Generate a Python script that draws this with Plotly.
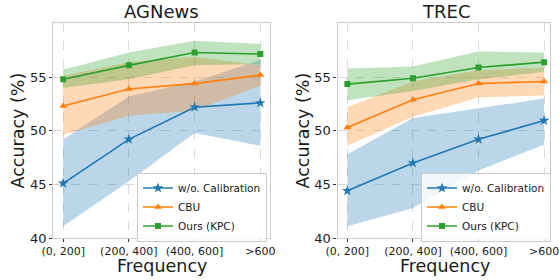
import plotly.graph_objects as go

W, H = 559, 280

categories = ["(0, 200]", "(200, 400]", "(400, 600]", ">600"]
series_names = ["w/o. Calibration", "CBU", "Ours (KPC)"]

# AGNews
ag_base = [45.1, 49.2, 52.2, 52.6]
ag_base_lo = [41.1, 45.3, 49.8, 48.6]
ag_base_hi = [49.2, 53.2, 54.6, 56.6]
ag_cbu = [52.3, 53.9, 54.4, 55.2]
ag_cbu_lo = [49.6, 51.4, 51.9, 54.2]
ag_cbu_hi = [55.1, 56.4, 56.9, 56.1]
ag_kpc = [54.8, 56.1, 57.3, 57.15]
ag_kpc_lo = [54.0, 54.8, 56.1, 56.2]
ag_kpc_hi = [55.7, 57.3, 58.4, 58.1]

# TREC
tr_base = [44.4, 47.0, 49.2, 50.95]
tr_base_lo = [41.1, 42.8, 46.3, 48.7]
tr_base_hi = [47.8, 51.2, 52.1, 53.0]
tr_cbu = [50.3, 52.9, 54.4, 54.6]
tr_cbu_lo = [48.6, 51.3, 53.1, 53.3]
tr_cbu_hi = [52.2, 54.6, 55.65, 55.9]
tr_kpc = [54.35, 54.9, 55.9, 56.4]
tr_kpc_lo = [52.85, 53.7, 54.8, 55.5]
tr_kpc_hi = [55.8, 56.0, 57.4, 57.3]

y_ticks = [40, 45, 50, 55]

colors = ["#1f77b4", "#ff7f0e", "#2ca02c"]
fills = ["rgba(31,119,180,0.3)", "rgba(255,127,14,0.3)", "rgba(44,160,44,0.3)"]
symbols = ["star", "triangle-up", "square"]
msizes = [8, 7, 6]

FONT = "DejaVu Sans"

fig = go.Figure()

panels = [
    ("x", "y", [(ag_base, ag_base_lo, ag_base_hi), (ag_cbu, ag_cbu_lo, ag_cbu_hi), (ag_kpc, ag_kpc_lo, ag_kpc_hi)], "legend"),
    ("x2", "y2", [(tr_base, tr_base_lo, tr_base_hi), (tr_cbu, tr_cbu_lo, tr_cbu_hi), (tr_kpc, tr_kpc_lo, tr_kpc_hi)], "legend2"),
]

for xa, ya, data, leg in panels:
    for i, (m, lo, hi) in enumerate(data):
        fig.add_trace(go.Scatter(
            x=categories + categories[::-1], y=hi + lo[::-1],
            fill="toself", fillcolor=fills[i], line=dict(width=0),
            mode="lines", hoverinfo="skip", showlegend=False,
            xaxis=xa, yaxis=ya))
    for i, (m, lo, hi) in enumerate(data):
        fig.add_trace(go.Scatter(
            x=categories, y=m, mode="lines+markers", name=series_names[i],
            line=dict(color=colors[i], width=1.6),
            marker=dict(symbol=symbols[i], size=msizes[i], color=colors[i]),
            xaxis=xa, yaxis=ya, legend=leg))

def px_x(p):
    return p / W

def px_y(p):
    return 1 - p / H

axis_common = dict(
    showgrid=True, gridcolor="#d9d9d9", griddash="dash", gridwidth=1,
    showline=True, mirror=True, linecolor="#cccccc", linewidth=1.2,
    ticks="outside", ticklen=3, tickcolor="#333333", tickwidth=1,
    zeroline=False, automargin=False,
)

fig.update_layout(
    width=W, height=H,
    margin=dict(l=0, r=0, t=0, b=0, autoexpand=False),
    plot_bgcolor="white", paper_bgcolor="white",
    font=dict(family=FONT, color="#1a1a1a"),
    xaxis=dict(domain=[px_x(53.3), px_x(269.5)], type="category", range=[-0.15, 3.14],
               tickfont=dict(size=11), tickangle=0, anchor="y", **axis_common),
    yaxis=dict(domain=[px_y(238), px_y(23)], range=[40, 60.05], tickvals=y_ticks,
               tickfont=dict(size=13), anchor="x", **axis_common),
    xaxis2=dict(domain=[px_x(337.5), px_x(550)], type="category", range=[-0.15, 3.09],
                tickfont=dict(size=11), tickangle=0, anchor="y2", **axis_common),
    yaxis2=dict(domain=[px_y(238), px_y(23)], range=[40, 60.05], tickvals=y_ticks,
                tickfont=dict(size=13), anchor="x2", **axis_common),
    legend=dict(x=px_x(137), y=px_y(207), xanchor="left", yanchor="middle",
                bgcolor="rgba(255,255,255,0.8)", bordercolor="#cccccc", borderwidth=1,
                font=dict(size=10.5), tracegroupgap=0),
    legend2=dict(x=px_x(421), y=px_y(207), xanchor="left", yanchor="middle",
                 bgcolor="rgba(255,255,255,0.8)", bordercolor="#cccccc", borderwidth=1,
                 font=dict(size=10.5), tracegroupgap=0),
)

annotations = [
    dict(text="AGNews", x=px_x(161.5), y=px_y(12), font=dict(size=18)),
    dict(text="TREC", x=px_x(446), y=px_y(12), font=dict(size=18)),
    dict(text="Frequency", x=px_x(161.5), y=px_y(266), font=dict(size=17.5)),
    dict(text="Frequency", x=px_x(445), y=px_y(266), font=dict(size=17.5)),
    dict(text="Accuracy (%)", x=px_x(17), y=px_y(130.5), textangle=-90, font=dict(size=17.5)),
    dict(text="Accuracy (%)", x=px_x(302), y=px_y(130.5), textangle=-90, font=dict(size=17.5)),
]
for a in annotations:
    a.update(xref="paper", yref="paper", showarrow=False, xanchor="center", yanchor="middle")
fig.update_layout(annotations=annotations)

fig.write_html(
    "out.html",
    config={"displayModeBar": False},
    post_script="document.body.style.margin='0';document.body.style.overflow='hidden';",
)
